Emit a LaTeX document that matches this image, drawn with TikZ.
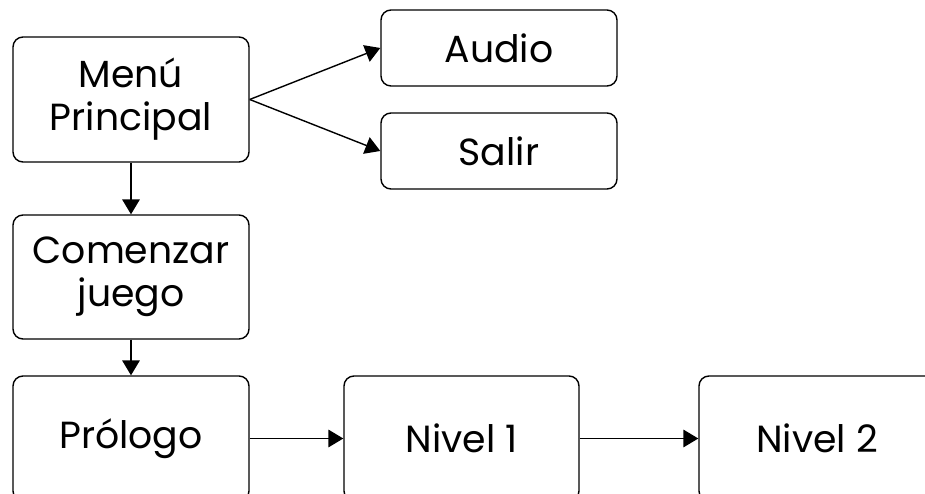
\documentclass[tikz,border=0pt]{standalone}
\usepackage{fontspec}
\setmainfont{Poppins}
\usetikzlibrary{arrows.meta}

\begin{document}
\begin{tikzpicture}[
    every node/.style={font=\fontsize{21.5}{24.5}\selectfont},
    caja/.style={draw, line width=0.8pt, rounded corners=0.2cm, align=center,
                 inner sep=0pt, minimum width=4.72cm},
    flecha/.style={line width=0.8pt, -{Triangle[length=8.5pt, width=10pt]}}
]
    % visible area of the drawing
    \useasboundingbox (0,0) rectangle (18.5,9.88);
    \clip (0,0) rectangle (18.5,9.88);

    % Menu
    \node[caja, minimum height=2.5cm] (menu) at (2.62, 7.89) {Menú\\Principal};
    \node[caja, minimum height=1.52cm] (audio) at (9.98, 8.92) {Audio};
    \node[caja, minimum height=1.52cm] (salir) at (9.98, 6.86) {Salir};

    \draw[flecha] (menu.east) -- (audio.west);
    \draw[flecha] (menu.east) -- (salir.west);

    % Juego
    \node[caja, minimum height=2.48cm] (comenzar) at (2.62, 4.34) {Comenzar\\juego};
    \draw[flecha] (menu.south) -- (comenzar.north);

    % Niveles
    \node[caja, minimum height=2.5cm] (prologo) at (2.62, 1.11) {Prólogo};
    \node[caja, minimum height=2.5cm, minimum width=4.7cm] (nivel1) at (9.23, 1.11) {Nivel 1};
    \node[caja, minimum height=2.5cm] (nivel2) at (16.34, 1.11) {Nivel 2};

    \draw[flecha] (comenzar.south) -- (prologo.north);
    \draw[flecha] (prologo.east) -- (nivel1.west);
    \draw[flecha] (nivel1.east) -- (nivel2.west);
\end{tikzpicture}
\end{document}
